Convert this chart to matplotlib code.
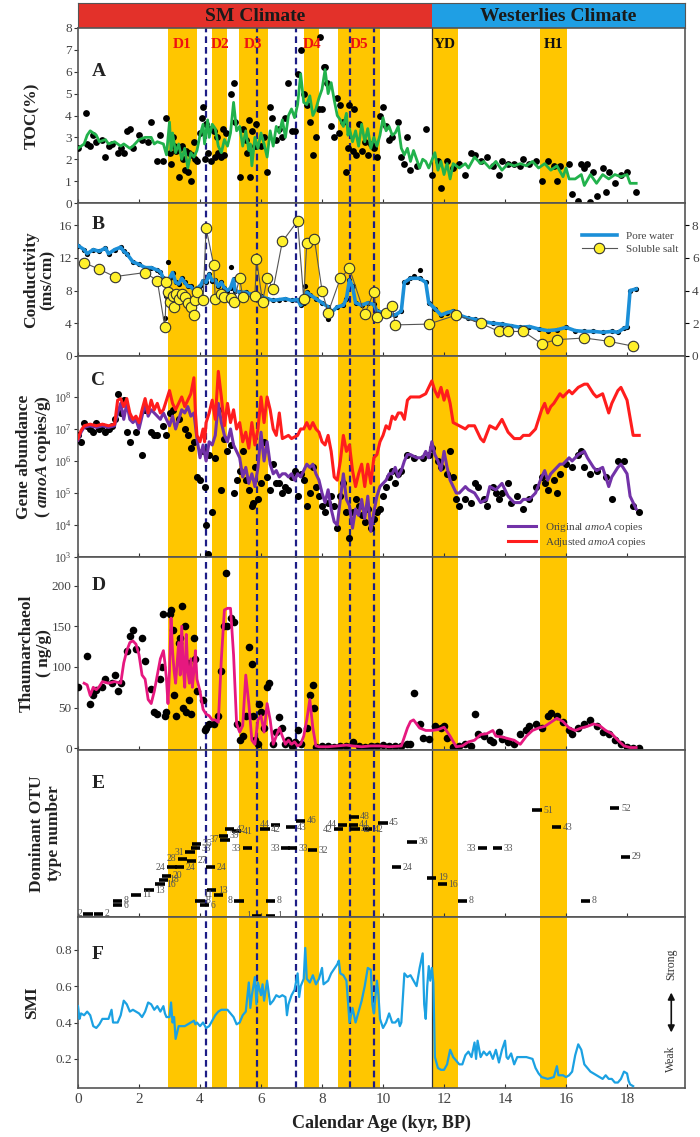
import numpy as np
import matplotlib.pyplot as plt
from matplotlib.ticker import FixedLocator, FuncFormatter

plt.rcParams['font.family'] = ['Liberation Serif', 'DejaVu Serif']
plt.rcParams['mathtext.fontset'] = 'custom'
plt.rcParams['mathtext.rm'] = 'Liberation Serif'
plt.rcParams['mathtext.it'] = 'Liberation Serif:italic'
plt.rcParams['mathtext.bf'] = 'Liberation Serif:bold'
plt.rcParams['mathtext.bfit'] = 'Liberation Serif:italic:bold'

# events
band_start = [2.95, 4.4, 5.27, 7.42, 8.52, 11.61, 15.15]
band_end = [3.9, 4.9, 6.22, 7.91, 9.9, 12.45, 16.03]
band_name = ["D1", "D2", "D3", "D4", "D5", "YD", "H1"]
event_lines = [4.19, 5.86, 7.16, 8.93, 9.7]
boundary = 11.6

# A: TOC
toc_age = [0.0, 0.2, 0.3, 0.4, 0.6, 0.7, 0.9, 1.0, 1.2, 1.4, 1.5, 1.7, 1.8, 2.0, 2.2, 2.4, 2.5, 2.6, 2.8, 2.9,
           3.0, 3.05, 3.1, 3.2, 3.3, 3.4, 3.5, 3.6, 3.7, 3.8, 3.9, 4.0, 4.1, 4.15, 4.25, 4.3, 4.4, 4.5, 4.6, 4.7,
           4.8, 4.9, 5.0, 5.1, 5.2, 5.3, 5.4, 5.5, 5.6, 5.65, 5.7, 5.8, 5.9, 6.0, 6.1, 6.2, 6.3, 6.4, 6.5, 6.6,
           6.7, 6.8, 6.9, 7.0, 7.1, 7.2, 7.3, 7.4, 7.5, 7.6, 7.7, 7.8, 7.9, 8.0, 8.1, 8.2, 8.3, 8.4, 8.5, 8.6,
           8.7, 8.8, 8.85, 8.9, 9.0, 9.1, 9.2, 9.3, 9.4, 9.5, 9.6, 9.7, 9.8, 9.9, 10.0, 10.1, 10.2, 10.3, 10.4, 10.5,
           10.6, 10.7, 10.8, 10.9, 11.0, 11.1, 11.2, 11.3, 11.4, 11.5, 11.7, 11.8, 11.9, 12.0, 12.1, 12.2, 12.3, 12.5, 12.7, 12.8,
           13.0, 13.2, 13.3, 13.5, 13.7, 13.9, 14.1, 14.3, 14.5, 14.7, 14.9, 15.1, 15.3, 15.5, 15.7, 15.9, 16.0, 16.1, 16.3, 16.5,
           16.6, 16.8, 17.0, 17.2, 17.4, 17.6, 17.8, 18.0, 18.1, 18.3]
toc_val = [2.5, 2.7, 3.1, 3.3, 3.1, 2.8, 2.9, 2.7, 2.8, 2.6, 2.7, 2.5, 2.6, 2.9, 3.0, 3.0, 2.7, 2.8, 2.7, 2.2,
           3.7, 2.4, 3.2, 2.3, 2.7, 2.0, 2.5, 1.6, 2.3, 2.1, 2.4, 3.1, 3.6, 2.7, 3.8, 3.0, 3.6, 3.4, 2.6, 2.3,
           2.9, 2.6, 3.2, 4.6, 3.3, 3.5, 2.6, 3.3, 2.4, 2.7, 1.7, 3.0, 2.5, 3.2, 2.7, 2.1, 3.3, 2.6, 3.5, 3.2,
           3.8, 3.0, 4.0, 4.3, 3.9, 4.5, 5.9, 4.6, 4.5, 4.9, 4.0, 4.3, 4.8, 5.2, 6.1, 5.0, 5.5, 4.7, 4.0, 3.8,
           3.5, 4.1, 3.1, 3.4, 2.8, 3.3, 2.6, 3.6, 2.8, 3.4, 2.5, 3.0, 2.6, 3.1, 3.9, 3.3, 3.5, 3.1, 3.2, 3.5,
           2.5, 2.2, 2.5, 1.9, 2.4, 2.0, 1.6, 2.0, 1.9, 1.6, 2.3, 1.5, 1.9, 1.3, 1.8, 1.1, 1.8, 1.6, 1.8, 1.6,
           2.1, 1.8, 1.9, 1.6, 1.9, 1.5, 1.8, 1.7, 1.8, 1.7, 1.9, 1.6, 1.8, 1.5, 1.7, 1.2, 1.6, 1.1, 1.1, 1.3,
           0.8, 1.3, 0.9, 1.3, 1.1, 1.3, 1.2, 1.3, 0.9, 0.9]
toc_dot_age = [0.0, 0.25, 0.3, 0.4, 0.5, 0.6, 0.8, 0.9, 1.0, 1.1, 1.3, 1.4, 1.5, 1.6, 1.7, 1.8, 2.0, 2.1, 2.3, 2.4,
               2.6, 2.7, 2.8, 2.9, 3.0, 3.05, 3.1, 3.15, 3.2, 3.3, 3.35, 3.4, 3.45, 3.5, 3.55, 3.6, 3.65, 3.7, 3.75, 3.8,
               3.85, 3.9, 4.0, 4.05, 4.1, 4.15, 4.2, 4.25, 4.3, 4.35, 4.45, 4.5, 4.55, 4.6, 4.7, 4.75, 4.8, 4.85, 5.0, 5.1,
               5.15, 5.3, 5.4, 5.5, 5.55, 5.6, 5.65, 5.7, 5.8, 5.85, 6.0, 6.1, 6.2, 6.3, 6.35, 6.5, 6.6, 6.7, 6.8, 6.9,
               7.0, 7.1, 7.2, 7.3, 7.4, 7.5, 7.6, 7.7, 7.8, 7.9, 7.95, 8.0, 8.05, 8.1, 8.15, 8.3, 8.4, 8.5, 8.55, 8.6,
               8.7, 8.8, 8.85, 8.9, 9.0, 9.05, 9.1, 9.2, 9.3, 9.4, 9.5, 9.6, 9.7, 9.8, 9.9, 10.0, 10.1, 10.2, 10.3, 10.5,
               10.6, 10.7, 10.8, 10.9, 11.1, 11.4, 11.6, 11.8, 11.9, 12.1, 12.3, 12.5, 12.7, 12.9, 13.0, 13.2, 13.4, 13.6, 13.8, 13.9,
               14.1, 14.3, 14.5, 14.6, 14.8, 15.0, 15.2, 15.4, 15.6, 15.7, 15.8, 16.1, 16.2, 16.4, 16.5, 16.6, 16.7, 16.8, 16.9, 17.0,
               17.2, 17.3, 17.4, 17.6, 17.8, 18.0, 18.3]
toc_dot_val = [2.5, 4.1, 2.7, 2.6, 3.1, 2.8, 2.9, 2.1, 2.6, 2.7, 2.3, 2.5, 2.3, 3.3, 3.4, 2.5, 3.1, 2.9, 2.8, 3.7,
               1.9, 3.1, 1.9, 3.9, 2.3, 1.8, 3.0, 2.6, 2.4, 1.2, 2.5, 2.6, 2.0, 1.5, 2.4, 1.4, 2.3, 1.0, 2.2, 2.8,
               2.0, 1.9, 3.2, 3.9, 4.4, 2.0, 3.6, 2.3, 3.4, 1.9, 3.3, 2.1, 3.0, 2.3, 2.1, 3.4, 2.2, 3.2, 5.0, 5.5,
               3.7, 1.2, 3.4, 2.9, 2.3, 3.8, 1.2, 3.3, 2.6, 3.6, 2.6, 3.0, 1.4, 4.4, 3.9, 2.9, 3.4, 3.0, 3.9, 5.5,
               3.3, 3.3, 5.9, 7.0, 5.0, 4.5, 3.7, 2.2, 3.0, 4.3, 7.6, 4.3, 6.2, 6.2, 5.5, 3.5, 3.0, 4.8, 3.2, 4.5,
               3.7, 1.4, 2.5, 4.5, 2.4, 4.3, 2.2, 3.6, 2.4, 2.8, 2.2, 2.7, 2.5, 2.1, 4.0, 4.4, 3.5, 2.9, 3.0, 3.7,
               2.1, 1.8, 3.0, 1.5, 1.7, 3.4, 1.3, 1.9, 0.7, 1.9, 1.6, 1.8, 1.3, 2.3, 2.2, 1.9, 2.1, 1.7, 1.3, 1.9,
               1.8, 1.8, 1.7, 2.0, 1.8, 1.9, 1.0, 1.9, 1.7, 1.0, 1.7, 1.8, 0.4, 0.1, 1.8, 1.6, 1.8, 0.05, 1.4, 0.3,
               1.6, 0.5, 1.4, 0.9, 1.3, 1.4, 0.5]

# B: conductivity
pore_age = [0.0, 0.2, 0.3, 0.5, 0.7, 0.9, 1.0, 1.2, 1.4, 1.5, 1.6, 1.8, 2.0, 2.2, 2.4, 2.6, 2.7, 2.8, 2.9, 3.0,
            3.1, 3.2, 3.3, 3.4, 3.5, 3.6, 3.7, 3.8, 3.9, 4.0, 4.1, 4.2, 4.3, 4.4, 4.5, 4.6, 4.7, 4.8, 4.9, 5.0,
            5.1, 5.15, 5.3, 5.5, 5.7, 5.9, 6.0, 6.2, 6.4, 6.6, 6.8, 7.0, 7.2, 7.3, 7.4, 7.5, 7.6, 7.8, 8.0, 8.2,
            8.3, 8.5, 8.7, 8.8, 8.9, 9.0, 9.1, 9.3, 9.5, 9.7, 9.8, 10.0, 10.2, 10.4, 10.6, 10.7, 10.9, 11.2, 11.4, 11.5,
            11.7, 11.9, 12.1, 12.3, 12.5, 12.8, 13.0, 13.3, 13.6, 13.9, 14.2, 14.5, 14.8, 15.1, 15.4, 15.7, 16.0, 16.3, 16.6, 16.9,
            17.2, 17.5, 17.7, 17.9, 18.0, 18.1, 18.3]
pore_val = [13.5, 13.0, 12.5, 13.0, 12.8, 13.2, 12.5, 13.0, 13.3, 12.8, 12.5, 11.5, 11.2, 10.8, 10.8, 10.5, 10.3, 9.5, 9.0, 9.5,
            10.2, 9.0, 8.8, 9.5, 9.0, 8.5, 8.5, 8.0, 8.3, 8.5, 9.2, 9.0, 10.0, 9.2, 9.3, 8.5, 9.0, 8.3, 8.0, 8.3,
            9.4, 8.0, 7.8, 7.8, 7.5, 7.5, 7.3, 7.0, 6.8, 6.9, 7.0, 6.8, 6.9, 6.2, 6.5, 7.8, 7.5, 7.0, 6.5, 6.0,
            5.3, 6.0, 6.2, 7.0, 9.3, 8.5, 6.5, 6.2, 6.5, 6.3, 5.5, 5.3, 5.0, 5.0, 5.5, 9.0, 9.5, 9.5, 9.0, 6.5,
            5.8, 5.0, 5.3, 5.5, 5.0, 4.6, 4.5, 4.2, 4.0, 3.9, 3.7, 3.5, 3.6, 3.3, 3.1, 3.2, 3.5, 3.1, 3.0, 3.0,
            2.9, 3.0, 2.9, 3.4, 3.5, 8.0, 8.2]
pore_dot_age = [2.85, 2.9, 2.95, 5.0, 7.45, 8.2, 10.8, 11.0, 11.2]
pore_dot_val = [4.7, 7.3, 11.5, 10.9, 8.5, 4.5, 9.0, 9.8, 10.5]
salt_age = [0.2, 0.7, 1.2, 2.2, 2.6, 2.85, 2.9, 2.95, 3.0, 3.1, 3.15, 3.2, 3.3, 3.4, 3.5, 3.6, 3.7, 3.8, 3.85, 3.9,
            4.1, 4.2, 4.45, 4.5, 4.7, 4.8, 5.0, 5.1, 5.3, 5.4, 5.8, 5.85, 6.05, 6.2, 6.4, 6.7, 7.2, 7.4, 7.5, 7.75,
            8.0, 8.2, 8.6, 8.9, 9.4, 9.7, 9.8, 10.1, 10.3, 10.4, 11.5, 12.4, 13.2, 13.8, 14.1, 14.6, 15.2, 15.7, 16.6, 17.4,
            18.2]
salt_val = [5.7, 5.3, 4.85, 5.1, 4.6, 1.75, 4.5, 3.9, 3.3, 3.65, 3.0, 3.8, 3.5, 3.8, 3.6, 3.25, 3.0, 2.5, 3.4, 3.9,
            3.4, 7.8, 5.55, 3.5, 3.8, 3.6, 3.55, 3.3, 4.75, 3.6, 3.65, 5.95, 3.3, 4.75, 4.1, 7.0, 8.25, 3.5, 6.9, 7.15,
            4.0, 2.65, 4.75, 5.35, 2.55, 3.9, 2.4, 2.6, 3.05, 1.9, 1.95, 2.5, 2.0, 1.5, 1.5, 1.5, 0.75, 1.0, 1.1, 0.9,
            0.6]

# C: amoA gene abundance (log10 copies/g)
adj_age = [0.0, 0.1, 0.2, 0.4, 0.6, 0.8, 1.0, 1.2, 1.3, 1.4, 1.5, 1.6, 1.7, 1.8, 1.9, 2.0, 2.1, 2.2, 2.3, 2.4,
           2.5, 2.6, 2.7, 2.8, 2.9, 3.0, 3.1, 3.2, 3.3, 3.4, 3.5, 3.6, 3.7, 3.8, 3.85, 3.9, 4.0, 4.1, 4.15, 4.2,
           4.3, 4.4, 4.5, 4.6, 4.7, 4.8, 4.9, 5.0, 5.1, 5.2, 5.3, 5.4, 5.5, 5.6, 5.7, 5.8, 5.9, 6.0, 6.1, 6.2,
           6.3, 6.4, 6.5, 6.6, 6.7, 6.9, 7.0, 7.2, 7.3, 7.4, 7.5, 7.6, 7.7, 7.8, 7.9, 8.0, 8.1, 8.2, 8.3, 8.4,
           8.5, 8.6, 8.7, 8.8, 8.9, 9.0, 9.1, 9.2, 9.3, 9.4, 9.5, 9.6, 9.7, 9.8, 9.9, 10.0, 10.1, 10.2, 10.3, 10.4,
           10.5, 10.6, 10.7, 10.8, 10.9, 11.0, 11.2, 11.4, 11.5, 11.6, 11.7, 11.8, 11.9, 12.0, 12.1, 12.2, 12.3, 12.5, 12.7, 12.8,
           13.0, 13.2, 13.3, 13.5, 13.7, 13.9, 14.1, 14.3, 14.5, 14.6, 14.8, 15.0, 15.2, 15.3, 15.4, 15.5, 15.6, 15.8, 15.9, 16.1,
           16.2, 16.4, 16.6, 16.7, 16.9, 17.0, 17.2, 17.3, 17.4, 17.5, 17.7, 17.8, 18.0, 18.2, 18.4]
adj_log = [6.7, 6.95, 7.1, 7.15, 7.1, 7.15, 7.1, 7.15, 7.9, 7.95, 7.7, 7.95, 7.5, 7.3, 7.4, 7.2, 7.6, 7.95, 7.5, 7.9,
           7.6, 7.8, 7.5, 7.6, 7.9, 8.2, 7.8, 7.6, 7.8, 8.0, 7.7, 7.9, 8.1, 8.6, 7.5, 6.8, 6.6, 7.0, 6.6, 7.2,
           7.5, 7.9, 7.3, 8.8, 8.0, 7.1, 7.8, 7.2, 7.6, 7.0, 7.2, 6.6, 6.9, 6.4, 7.2, 6.5, 7.0, 8.0, 7.2, 8.0,
           7.6, 7.0, 6.8, 7.5, 6.7, 6.8, 6.7, 6.8, 7.0, 7.0, 7.2, 7.0, 7.2, 7.0, 6.9, 6.6, 6.5, 6.8, 6.3, 5.5,
           5.4, 6.0, 6.8, 6.3, 6.5, 5.7, 5.2, 5.6, 5.9, 5.2, 5.9, 5.3, 6.1, 6.2, 6.6, 6.8, 7.1, 7.0, 7.4, 7.3,
           7.5, 7.5, 7.3, 7.9, 8.0, 8.0, 8.0, 8.1, 8.3, 8.5, 8.2, 8.0, 8.3, 7.9, 8.2, 7.8, 7.2, 7.1, 7.0, 7.1,
           7.1, 6.7, 6.6, 7.1, 7.0, 7.3, 6.9, 6.7, 6.7, 6.8, 6.8, 7.0, 7.6, 7.8, 7.5, 7.7, 7.8, 8.1, 8.0, 8.2,
           8.1, 8.3, 8.4, 8.4, 8.1, 8.0, 8.1, 7.8, 7.5, 7.8, 8.2, 8.3, 7.9, 6.8, 6.8]
orig_age = [0.0, 0.1, 0.2, 0.4, 0.6, 0.8, 1.0, 1.2, 1.3, 1.4, 1.5, 1.6, 1.7, 1.8, 1.9, 2.0, 2.1, 2.2, 2.3, 2.4,
            2.5, 2.6, 2.7, 2.8, 2.9, 3.0, 3.1, 3.2, 3.3, 3.4, 3.5, 3.6, 3.7, 3.8, 3.9, 4.0, 4.1, 4.2, 4.3, 4.4,
            4.5, 4.6, 4.7, 4.8, 4.9, 5.0, 5.1, 5.2, 5.3, 5.4, 5.5, 5.6, 5.7, 5.8, 5.9, 6.0, 6.1, 6.2, 6.3, 6.4,
            6.5, 6.6, 6.7, 6.8, 6.9, 7.0, 7.1, 7.2, 7.3, 7.4, 7.5, 7.6, 7.7, 7.8, 7.9, 8.0, 8.1, 8.2, 8.3, 8.4,
            8.5, 8.6, 8.7, 8.8, 8.9, 9.0, 9.1, 9.2, 9.3, 9.4, 9.5, 9.6, 9.7, 9.8, 9.9, 10.0, 10.1, 10.2, 10.3, 10.4,
            10.5, 10.6, 10.7, 10.8, 10.9, 11.1, 11.3, 11.4, 11.5, 11.6, 11.7, 11.8, 11.9, 12.0, 12.1, 12.2, 12.3, 12.4, 12.5, 12.7,
            12.8, 13.0, 13.2, 13.4, 13.5, 13.7, 13.9, 14.1, 14.3, 14.5, 14.6, 14.8, 15.0, 15.2, 15.3, 15.4, 15.5, 15.6, 15.8, 15.9,
            16.1, 16.2, 16.4, 16.6, 16.7, 16.9, 17.0, 17.2, 17.3, 17.4, 17.5, 17.7, 17.8, 18.0, 18.1, 18.2, 18.3]
orig_log = [6.65, 6.9, 7.05, 7.1, 7.05, 7.1, 7.05, 7.1, 7.5, 7.8, 7.3, 7.8, 7.3, 7.2, 7.3, 7.0, 7.4, 7.8, 7.4, 7.6,
            7.5, 7.4, 7.3, 7.5, 7.3, 7.1, 7.4, 7.0, 7.3, 7.6, 7.5, 7.7, 7.4, 7.5, 6.7, 6.1, 6.5, 6.0, 6.6, 6.5,
            6.8, 7.8, 7.2, 6.8, 6.6, 7.0, 6.5, 6.3, 6.1, 5.5, 5.8, 5.3, 5.6, 5.2, 5.8, 6.9, 6.0, 6.6, 5.9, 5.6,
            5.7, 5.5, 5.6, 5.6, 5.5, 5.6, 5.4, 5.6, 5.5, 5.7, 5.9, 5.8, 5.9, 5.6, 5.4, 5.0, 4.7, 5.1, 4.5, 4.1,
            4.0, 4.8, 5.6, 4.8, 4.6, 3.9, 4.5, 4.3, 4.8, 4.2, 4.9, 3.8, 4.4, 4.9, 5.2, 5.3, 5.4, 5.6, 5.6, 5.8,
            5.5, 5.7, 6.0, 6.2, 6.2, 6.1, 6.1, 6.3, 6.1, 6.6, 6.2, 6.0, 5.7, 6.3, 5.8, 5.4, 5.2, 5.0, 5.0, 5.2,
            5.1, 5.0, 4.7, 4.8, 5.2, 5.1, 5.3, 4.9, 4.7, 4.7, 4.8, 4.8, 5.0, 5.5, 5.7, 5.4, 5.6, 5.7, 5.9, 5.9,
            6.1, 6.0, 6.2, 6.3, 6.1, 5.8, 5.7, 5.8, 5.5, 5.2, 5.5, 5.8, 5.9, 5.6, 4.9, 4.7, 4.5]
gene_dot_age = [0.0, 0.1, 0.2, 0.3, 0.4, 0.5, 0.6, 0.7, 0.8, 0.9, 1.0, 1.1, 1.2, 1.3, 1.4, 1.5, 1.6, 1.7, 1.9, 2.1,
                2.2, 2.4, 2.5, 2.6, 2.8, 2.9, 3.0, 3.1, 3.3, 3.5, 3.6, 3.7, 3.8, 3.9, 4.0, 4.1, 4.15, 4.2, 4.25, 4.3,
                4.4, 4.5, 4.6, 4.7, 4.8, 4.9, 5.0, 5.1, 5.2, 5.3, 5.4, 5.5, 5.6, 5.7, 5.75, 5.8, 5.9, 6.0, 6.1, 6.2,
                6.3, 6.4, 6.5, 6.6, 6.7, 6.8, 6.9, 7.0, 7.1, 7.2, 7.3, 7.4, 7.5, 7.6, 7.7, 7.8, 7.9, 8.0, 8.1, 8.2,
                8.3, 8.4, 8.5, 8.6, 8.7, 8.8, 8.9, 9.0, 9.1, 9.2, 9.3, 9.4, 9.5, 9.6, 9.7, 9.8, 9.9, 10.0, 10.1, 10.2,
                10.3, 10.4, 10.5, 10.6, 10.8, 11.0, 11.3, 11.5, 11.6, 11.8, 11.9, 12.1, 12.2, 12.3, 12.4, 12.5, 12.7, 12.9, 13.0, 13.1,
                13.3, 13.4, 13.6, 13.7, 13.8, 13.9, 14.1, 14.2, 14.4, 14.6, 14.8, 15.0, 15.2, 15.3, 15.4, 15.6, 15.7, 15.8, 16.0, 16.2,
                16.4, 16.5, 16.6, 16.8, 17.0, 17.3, 17.5, 17.7, 17.9, 18.2, 18.4]
gene_dot_log = [6.8, 6.6, 7.2, 7.1, 7.0, 6.9, 7.2, 7.0, 7.1, 6.9, 7.0, 7.1, 7.3, 8.1, 7.5, 7.9, 6.9, 6.6, 6.9, 6.2,
                7.6, 6.9, 6.8, 6.8, 7.1, 6.8, 7.5, 7.6, 7.3, 7.0, 6.8, 6.4, 6.6, 5.5, 5.4, 6.3, 5.2, 4.0, 3.1, 6.2,
                4.4, 6.1, 7.6, 5.1, 6.7, 6.3, 6.5, 5.0, 5.4, 5.7, 6.3, 5.4, 5.1, 4.6, 4.7, 5.8, 4.8, 5.3, 6.6, 5.5,
                5.1, 5.9, 5.3, 5.3, 5.0, 5.2, 5.1, 5.5, 5.7, 4.9, 5.6, 5.4, 4.6, 5.0, 5.8, 5.2, 4.9, 4.6, 4.4, 4.7,
                4.9, 4.6, 3.9, 4.9, 5.3, 4.4, 3.6, 4.4, 4.8, 4.6, 4.3, 4.1, 4.5, 3.9, 4.2, 4.4, 4.5, 4.9, 5.2, 5.5,
                5.7, 5.3, 5.6, 5.7, 6.2, 6.1, 6.1, 6.2, 6.4, 6.0, 5.8, 5.6, 6.3, 5.5, 4.8, 4.6, 4.8, 4.7, 5.3, 5.2,
                4.8, 4.6, 5.2, 5.0, 4.8, 5.0, 5.3, 4.7, 4.9, 4.5, 4.8, 5.2, 5.5, 5.3, 5.1, 5.4, 5.0, 5.6, 5.9, 5.8,
                6.2, 6.3, 5.8, 5.6, 5.7, 5.5, 4.8, 6.0, 6.0, 4.6, 4.4]

# D: thaumarchaeol (ng/g)
thaum_age = [0.2, 0.3, 0.4, 0.5, 0.6, 0.7, 0.8, 1.0, 1.2, 1.4, 1.5, 1.6, 1.7, 1.8, 1.9, 2.0, 2.1, 2.2, 2.3, 2.4,
             2.5, 2.6, 2.7, 2.8, 2.85, 2.9, 2.95, 3.0, 3.05, 3.1, 3.15, 3.2, 3.3, 3.35, 3.4, 3.45, 3.5, 3.55, 3.6, 3.65,
             3.7, 3.75, 3.8, 3.85, 3.9, 4.0, 4.1, 4.2, 4.3, 4.4, 4.5, 4.6, 4.7, 4.8, 4.9, 5.0, 5.1, 5.2, 5.3, 5.4,
             5.5, 5.6, 5.7, 5.8, 5.9, 6.0, 6.1, 6.2, 6.3, 6.4, 6.5, 6.6, 6.7, 6.8, 6.9, 7.0, 7.1, 7.2, 7.3, 7.4,
             7.5, 7.6, 7.7, 7.8, 7.9, 8.2, 8.5, 8.8, 9.0, 9.3, 9.6, 9.9, 10.2, 10.6, 10.8, 10.9, 11.0, 11.2, 11.4, 11.6,
             11.8, 12.0, 12.2, 12.4, 12.6, 12.8, 13.0, 13.2, 13.4, 13.6, 13.7, 13.9, 14.1, 14.3, 14.5, 14.7, 14.9, 15.1, 15.3, 15.5,
             15.7, 15.9, 16.1, 16.3, 16.5, 16.7, 16.9, 17.1, 17.3, 17.5, 17.7, 17.9, 18.1, 18.3]
thaum_val = [80, 78, 65, 75, 72, 76, 82, 80, 82, 80, 105, 120, 130, 132, 128, 115, 90, 85, 60, 55,
             70, 90, 110, 120, 105, 85, 55, 95, 160, 120, 95, 80, 130, 90, 150, 100, 75, 140, 95, 80,
             110, 75, 95, 120, 85, 70, 48, 42, 40, 35, 35, 32, 110, 170, 172, 172, 115, 30, 20, 28,
             90, 55, 10, 5, 35, 40, 20, 55, 35, 5, 15, 25, 15, 5, 10, 5, 8, 3, 5, 15,
             35, 60, 25, 3, 2, 2, 3, 4, 3, 2, 3, 3, 2, 3, 25, 33, 35, 25, 22, 22,
             23, 26, 15, 2, 3, 8, 10, 17, 18, 22, 15, 14, 12, 10, 5, 15, 22, 25, 27, 32,
             37, 33, 25, 22, 25, 27, 30, 28, 22, 18, 10, 3, 1, 1]
thaum_dot_age = [0.0, 0.3, 0.4, 0.5, 0.6, 0.8, 0.9, 1.1, 1.2, 1.3, 1.4, 1.6, 1.7, 1.8, 1.9, 2.1, 2.2, 2.4, 2.5, 2.6,
                 2.7, 2.75, 2.8, 2.85, 2.9, 3.0, 3.05, 3.1, 3.15, 3.2, 3.3, 3.35, 3.4, 3.45, 3.5, 3.55, 3.6, 3.65, 3.7, 3.8,
                 3.85, 3.9, 4.1, 4.15, 4.2, 4.3, 4.45, 4.6, 4.7, 4.8, 4.85, 4.9, 5.0, 5.1, 5.2, 5.3, 5.4, 5.5, 5.6, 5.7,
                 5.75, 5.8, 5.9, 5.95, 6.0, 6.1, 6.2, 6.25, 6.4, 6.5, 6.6, 6.7, 6.8, 6.9, 7.0, 7.1, 7.2, 7.3, 7.5, 7.6,
                 7.7, 7.75, 7.8, 8.0, 8.2, 8.4, 8.6, 8.8, 9.0, 9.2, 9.4, 9.6, 9.8, 10.0, 10.2, 10.4, 10.6, 10.8, 10.9, 11.0,
                 11.2, 11.3, 11.5, 11.7, 11.9, 12.0, 12.1, 12.3, 12.5, 12.7, 12.9, 13.0, 13.1, 13.3, 13.5, 13.6, 13.8, 13.9, 14.1, 14.3,
                 14.5, 14.7, 14.8, 15.0, 15.2, 15.4, 15.5, 15.7, 15.9, 16.1, 16.2, 16.4, 16.6, 16.8, 17.0, 17.2, 17.4, 17.6, 17.8, 18.0,
                 18.2, 18.4]
thaum_dot_val = [75, 113, 55, 65, 72, 75, 85, 80, 90, 70, 80, 120, 138, 145, 122, 135, 107, 73, 45, 42,
                 85, 100, 165, 40, 45, 165, 170, 145, 65, 40, 130, 135, 175, 50, 150, 45, 105, 60, 42, 135,
                 110, 70, 60, 22, 25, 30, 30, 40, 95, 150, 215, 150, 160, 155, 30, 10, 15, 40, 125, 103,
                 40, 10, 5, 55, 45, 25, 75, 80, 5, 20, 38, 25, 5, 10, 3, 8, 22, 5, 25, 65,
                 78, 50, 2, 3, 3, 2, 3, 3, 8, 3, 2, 3, 3, 4, 3, 3, 3, 5, 5, 68,
                 30, 13, 12, 28, 25, 27, 13, 2, 3, 5, 3, 42, 18, 15, 10, 8, 20, 12, 8, 5,
                 18, 22, 28, 30, 25, 40, 43, 40, 32, 22, 18, 25, 30, 35, 28, 20, 18, 10, 5, 2,
                 1, 1]

# E: dominant OTU type
otu_age = [0.33, 0.67, 1.3, 1.3, 1.9, 2.33, 2.69, 2.8, 2.9, 3.08, 3.33, 3.42, 3.67, 3.73, 3.84, 3.89, 4.0, 4.16, 4.33, 4.38,
           4.6, 4.77, 4.82, 4.98, 5.2, 5.28, 5.56, 5.86, 6.32, 6.32, 6.13, 6.48, 6.81, 7.02, 6.98, 7.3, 7.7, 8.67, 8.53, 9.05,
           9.02, 9.08, 9.5, 10.0, 10.45, 10.95, 11.6, 11.95, 12.6, 13.25, 13.75, 15.05, 15.7, 16.65, 17.6, 17.95]
otu_num = [2, 2, 8, 6, 11, 13, 16, 18, 20, 24, 24, 28, 31, 27, 33, 35, 8, 6, 24, 13,
           11, 39, 37, 42, 41, 8, 33, 1, 1, 8, 42, 44, 33, 33, 43, 46, 32, 44, 42, 48,
           44, 42, 42, 45, 24, 36, 19, 16, 8, 33, 33, 51, 43, 8, 52, 29]

# F: SMI
smi_age = [0.0, 0.05, 0.1, 0.2, 0.3, 0.4, 0.5, 0.6, 0.7, 0.8, 1.0, 1.1, 1.15, 1.3, 1.4, 1.5, 1.6, 1.7, 1.8, 1.9,
           2.0, 2.1, 2.2, 2.3, 2.4, 2.5, 2.6, 2.7, 2.8, 2.85, 2.9, 3.0, 3.05, 3.1, 3.15, 3.2, 3.3, 3.4, 3.5, 3.6,
           3.7, 3.8, 3.85, 3.9, 4.0, 4.1, 4.2, 4.3, 4.4, 4.5, 4.6, 4.7, 4.9, 5.0, 5.1, 5.2, 5.3, 5.4, 5.5, 5.6,
           5.65, 5.7, 5.8, 5.85, 5.9, 6.0, 6.05, 6.1, 6.2, 6.3, 6.4, 6.5, 6.6, 6.7, 6.8, 6.85, 6.9, 7.0, 7.1, 7.2,
           7.25, 7.3, 7.4, 7.45, 7.5, 7.6, 7.7, 7.8, 7.9, 8.0, 8.05, 8.2, 8.3, 8.5, 8.55, 8.6, 8.7, 8.8, 8.9, 9.0,
           9.1, 9.2, 9.3, 9.4, 9.5, 9.6, 9.65, 9.7, 9.8, 9.85, 9.9, 10.0, 10.1, 10.2, 10.3, 10.4, 10.5, 10.55, 10.6, 10.7,
           10.8, 10.9, 11.0, 11.1, 11.2, 11.3, 11.35, 11.4, 11.45, 11.5, 11.55, 11.6, 11.65, 11.7, 11.8, 11.9, 12.0, 12.1, 12.2, 12.3,
           12.4, 12.5, 12.6, 12.7, 12.8, 12.9, 13.0, 13.05, 13.1, 13.2, 13.3, 13.4, 13.5, 13.6, 13.7, 13.8, 13.9, 14.0, 14.05, 14.1,
           14.2, 14.3, 14.4, 14.5, 14.7, 14.9, 15.0, 15.1, 15.2, 15.4, 15.6, 15.7, 15.75, 15.9, 16.0, 16.1, 16.2, 16.3, 16.4, 16.5,
           16.6, 16.8, 17.0, 17.2, 17.3, 17.4, 17.5, 17.6, 17.7, 17.8, 17.9, 18.0, 18.05, 18.1, 18.2]
smi_val = [0.49, 0.42, 0.45, 0.44, 0.46, 0.44, 0.38, 0.37, 0.39, 0.42, 0.42, 0.47, 0.40, 0.40, 0.44, 0.52, 0.50, 0.46, 0.47, 0.46,
           0.45, 0.43, 0.46, 0.51, 0.50, 0.47, 0.49, 0.46, 0.49, 0.45, 0.43, 0.43, 0.51, 0.40, 0.43, 0.31, 0.38, 0.38, 0.38, 0.39,
           0.40, 0.41, 0.39, 0.40, 0.38, 0.40, 0.37, 0.38, 0.41, 0.44, 0.46, 0.47, 0.47, 0.45, 0.43, 0.39, 0.40, 0.44, 0.46, 0.62,
           0.48, 0.55, 0.65, 0.50, 0.62, 0.55, 0.61, 0.52, 0.63, 0.50, 0.52, 0.55, 0.54, 0.55, 0.54, 0.44, 0.50, 0.55, 0.58, 0.67,
           0.54, 0.60, 0.64, 0.81, 0.64, 0.62, 0.66, 0.61, 0.64, 0.70, 0.61, 0.63, 0.67, 0.72, 0.74, 0.67, 0.66, 0.63, 0.40, 0.48,
           0.40, 0.46, 0.52, 0.60, 0.70, 0.69, 0.50, 0.45, 0.63, 0.55, 0.42, 0.37, 0.40, 0.45, 0.40, 0.40, 0.42, 0.38, 0.40, 0.67,
           0.65, 0.66, 0.63, 0.60, 0.70, 0.78, 0.50, 0.42, 0.60, 0.71, 0.63, 0.70, 0.62, 0.21, 0.15, 0.14, 0.14, 0.17, 0.25, 0.21,
           0.19, 0.17, 0.17, 0.22, 0.24, 0.21, 0.29, 0.20, 0.30, 0.21, 0.24, 0.22, 0.24, 0.20, 0.25, 0.18, 0.25, 0.30, 0.21, 0.20,
           0.23, 0.17, 0.21, 0.21, 0.21, 0.20, 0.15, 0.12, 0.10, 0.09, 0.10, 0.16, 0.11, 0.11, 0.10, 0.11, 0.13, 0.22, 0.28, 0.25,
           0.17, 0.13, 0.11, 0.09, 0.11, 0.09, 0.09, 0.07, 0.07, 0.09, 0.13, 0.12, 0.08, 0.06, 0.05]

# 図
##################################################################################################################################################
W, H = 700, 1137
fig = plt.figure(figsize=(7, 11.37), dpi=100)
XMAX = 19.9
tick_c = '#444444'
lab_c = '#222222'


def add_ax(top, bottom):
    return fig.add_axes([78 / W, 1 - bottom / H, 607 / W, (bottom - top) / H])


def base(ax, ylabel, letter, ly, labx):
    for s, e in zip(band_start, band_end):
        ax.axvspan(s, e, color='#ffc600', lw=0, zorder=0)
    for xv in event_lines:
        ax.axvline(xv, color='#1d1d86', ls=(0, (3, 1.8)), lw=1.6, zorder=1)
    ax.axvline(boundary, color='#333333', lw=0.9, zorder=1)
    ax.set_xlim(0, XMAX)
    ax.set_xticks(np.arange(0, 19, 2))
    ax.tick_params(axis='x', direction='in', length=3, color='#333', labelbottom=False)
    ax.tick_params(axis='y', direction='out', length=3, color='#333', labelsize=9.5, labelcolor=tick_c, pad=1.5)
    for sp in ax.spines.values():
        sp.set_color('#555555')
        sp.set_linewidth(1.2)
    ax.set_ylabel(ylabel, fontsize=12.5, fontweight='bold', color=lab_c, linespacing=1.1)
    # right edge of the label block, in pixels from the figure's left
    ax.yaxis.set_label_coords((labx - 78) / 607, 0.5)
    ax.text(0.022, ly, letter, transform=ax.transAxes, fontsize=14, fontweight='bold',
            color='#222', va='center', zorder=6)


# climate bar
axb = add_ax(3, 28)
axb.set_xlim(0, XMAX)
axb.set_ylim(0, 1)
axb.axvspan(0, boundary, color='#e3312a', lw=0)
axb.axvspan(boundary, XMAX, color='#1f9fe4', lw=0)
axb.text(boundary / 2, 0.45, 'SM Climate', ha='center', va='center', fontsize=14, fontweight='bold', color='#1a1a1a')
axb.text((boundary + XMAX) / 2, 0.45, 'Westerlies Climate', ha='center', va='center', fontsize=14,
         fontweight='bold', color='#1a1a1a')
axb.set_xticks([])
axb.set_yticks([])
for sp in axb.spines.values():
    sp.set_color('#555555')

# A
ax = add_ax(28, 203)
base(ax, 'TOC(%)', 'A', 0.75, 40)
ax.scatter(toc_dot_age, toc_dot_val, s=24, c='k', lw=0, zorder=3)
ax.plot(toc_age, toc_val, color='#22b24c', lw=2, zorder=4)
ax.set_ylim(0, 8)
ax.set_yticks(range(9))
for s, e, n in zip(band_start, band_end, band_name):
    ax.text((s + e) / 2, 7.25, n, ha='center', va='center', fontsize=11, fontweight='bold',
            color='#111' if n in ('YD', 'H1') else '#ee1111', zorder=6)

# B
ax = add_ax(203, 356)
base(ax, 'Conductivity\n(ms/cm)', 'B', 0.86, 56)
ax.scatter(pore_age, pore_val, s=14, c='k', lw=0, zorder=3)
ax.scatter(pore_dot_age, pore_dot_val, s=14, c='k', lw=0, zorder=3)
ax.plot(pore_age, pore_val, color='#1b8fd8', lw=2.6, zorder=4, label='Pore water')
ax.set_ylim(0, 18.7)
ax.set_yticks([0, 4, 8, 12, 16])
ax2 = ax.twinx()
ax2.plot(salt_age, salt_val, color='#555555', lw=0.8, marker='o', ms=7.5, mfc='#fff02a', mec='#333333',
         mew=0.8, zorder=5, label='Soluble salt')
ax2.set_ylim(0, 18.7 / 2)
ax2.set_yticks([0, 2, 4, 6, 8])
ax2.tick_params(axis='y', direction='out', length=3, labelsize=9.5, labelcolor=tick_c, pad=2)
for sp in ax2.spines.values():
    sp.set_visible(False)
h1, l1 = ax.get_legend_handles_labels()
h2, l2 = ax2.get_legend_handles_labels()
ax2.legend(h1 + h2, l1 + l2, loc='upper right', bbox_to_anchor=(1.0, 0.86), frameon=False, fontsize=8,
           labelcolor='#444', handlelength=3.2, borderaxespad=0.2, labelspacing=0.3)

# C
ax = add_ax(356, 557)
base(ax, 'Gene abundance\n( $\\mathbfit{amoA}$ copies/g)', 'C', 0.88, 53)
ax.set_yscale('log')
ax.scatter(gene_dot_age, 10 ** np.array(gene_dot_log), s=26, c='k', lw=0, zorder=3)
ax.plot(orig_age, 10 ** np.array(orig_log), color='#7232a8', lw=2.2, zorder=4,
        label='Original $\\it{amoA}$ copies')
ax.plot(adj_age, 10 ** np.array(adj_log), color='#ff1d1d', lw=2.2, zorder=4,
        label='Adjusted $\\it{amoA}$ copies')
ax.set_ylim(1e3, 10 ** 9.28)
ax.yaxis.set_major_locator(FixedLocator([1e3, 1e4, 1e5, 1e6, 1e7, 1e8]))
ax.yaxis.set_minor_locator(FixedLocator([]))
ax.yaxis.set_major_formatter(FuncFormatter(lambda v, p: '$10^{%d}$' % round(np.log10(v))))
ax.tick_params(axis='y', labelsize=8.5)
ax.legend(loc='lower right', bbox_to_anchor=(0.95, 0.0), frameon=False, fontsize=8, labelcolor='#444',
          handlelength=2.5, borderaxespad=0.3, labelspacing=0.2)

# D
ax = add_ax(557, 750)
base(ax, 'Thaumarchaeol\n( ng/g)', 'D', 0.85, 52)
ax.scatter(thaum_dot_age, thaum_dot_val, s=30, c='k', lw=0, zorder=3)
ax.plot(thaum_age, thaum_val, color='#e6187f', lw=2, zorder=4)
ax.set_ylim(-2, 235)
ax.set_yticks([0, 50, 100, 150, 200])

# E
otu_left = {0, 9, 11, 12, 20, 22, 25, 26, 27, 31, 32, 37, 38, 49}
ax = add_ax(750, 917)
base(ax, 'Dominant OTU\ntype number', 'E', 0.80, 62)
for i, (a, n) in enumerate(zip(otu_age, otu_num)):
    ax.plot([a - 0.15, a + 0.15], [n, n], color='k', lw=2.6, solid_capstyle='butt', zorder=4)
    if i in otu_left:
        ax.text(a - 0.2, n, str(n), ha='right', va='center', fontsize=7, color='#555', zorder=5)
    else:
        ax.text(a + 0.2, n, str(n), ha='left', va='center', fontsize=7, color='#555', zorder=5)
ax.set_ylim(0.4, 79.5)
ax.set_yticks([])

# F
ax = add_ax(917, 1088)
base(ax, 'SMI', 'F', 0.78, 40)
ax.plot(smi_age, smi_val, color='#1ba1e2', lw=1.6, zorder=4)
ax.set_ylim(0.04, 0.98)
ax.set_yticks([0.2, 0.4, 0.6, 0.8])
ax.tick_params(axis='x', labelbottom=True, labelsize=11, labelcolor=tick_c)
ax.set_xlabel('Calendar Age (kyr, BP)', fontsize=13, fontweight='bold', color=lab_c, labelpad=6)
ax.annotate('', xy=(19.45, 0.58), xytext=(19.45, 0.33),
            arrowprops=dict(arrowstyle='<|-|>', color='#111', lw=1.2, mutation_scale=10))
ax.text(19.45, 0.72, 'Strong', rotation=90, ha='center', va='center', fontsize=8.5, color='#333')
ax.text(19.45, 0.2, 'Weak', rotation=90, ha='center', va='center', fontsize=8.5, color='#333')

fig.savefig('out.png', dpi=100)
